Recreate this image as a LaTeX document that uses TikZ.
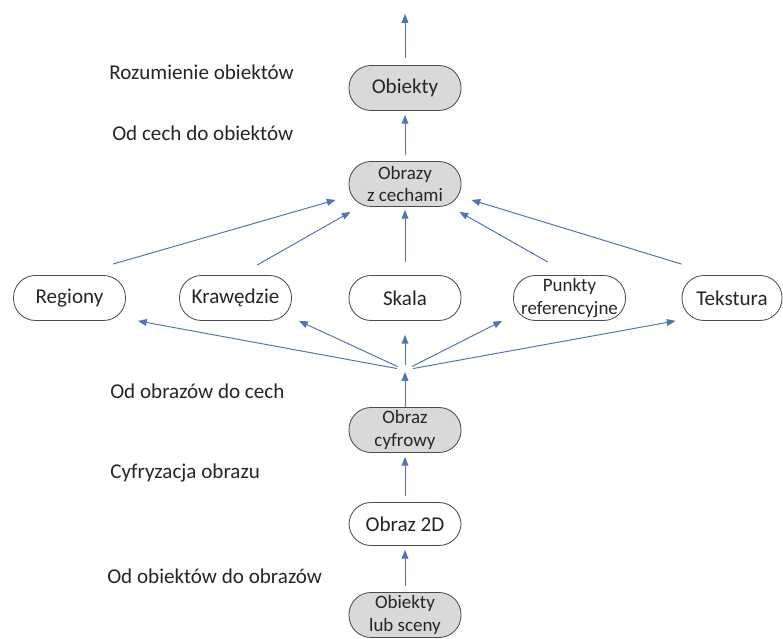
\documentclass[tikz,border=0pt]{standalone}
\usepackage{fontspec}
\setmainfont{Carlito}
\usetikzlibrary{arrows.meta}
\definecolor{arrowBlue}{RGB}{82,116,176}
\definecolor{boxGray}{RGB}{217,217,217}
\definecolor{textGray}{RGB}{38,38,38}

\begin{document}
\begin{tikzpicture}[
        stage/.style={draw=black!70, line width=0.6pt, rounded corners=0.55cm, align=center, font=\fontsize{13.5}{16}\selectfont, text=textGray, minimum width=2.8cm, minimum height=1.125cm, inner sep=1pt, fill=boxGray},
        feature/.style={stage, fill=white},
        big/.style={font=\fontsize{15}{17}\selectfont},
        levelLabel/.style={anchor=west, inner sep=0pt, font=\fontsize{15}{17}\selectfont, text=textGray},
        flow/.style={-{Triangle[length=2.2mm,width=1.7mm]}, draw=arrowBlue, line width=0.7pt},
        gap/.style={shorten <=0.15cm, shorten >=0.1cm}
      ]
      \useasboundingbox (0,0) rectangle (19.575,-15.975);
      \node[stage, big] (obiekty) at (10.125,-2.2) {Obiekty};
      \node[stage] (cechy) at (10.125,-4.6) {Obrazy\\z cechami};
      \node[feature, big] (regiony) at (1.7375,-7.45) {Regiony};
      \node[feature, big] (krawedzie) at (5.8875,-7.45) {Krawędzie};
      \node[feature, big] (skala) at (10.125,-7.45) {Skala};
      \node[feature] (punkty) at (14.2375,-7.45) {Punkty\\referencyjne};
      \node[feature, big, minimum width=2.5cm] (tekstura) at (18.3,-7.45) {Tekstura};
      \node[stage] (cyfrowy) at (10.125,-10.75) {Obraz\\cyfrowy};
      \node[feature, big, minimum height=1.075cm] (obraz2d) at (10.125,-13.1) {Obraz 2D};
      \node[stage] (sceny) at (10.125,-15.375) {Obiekty\\lub sceny};
      \coordinate (top) at (10.125,-0.35);
      \coordinate (hub) at (10.125,-9.25);
      \node[levelLabel] (lRozumienie) at (2.725,-1.8) {Rozumienie obiektów};
      \node[levelLabel] (lCechy) at (2.8,-3.325) {Od cech do obiektów};
      \node[levelLabel] (lObrazy) at (2.75,-9.775) {Od obrazów do cech};
      \node[levelLabel] (lCyfryzacja) at (2.75,-11.825) {Cyfryzacja obrazu};
      \node[levelLabel] (lObiekty) at (2.675,-14.4) {Od obiektów do obrazów};
      \draw[flow, shorten <=0.175cm] (obiekty) -- (top);
      \draw[flow, gap] (cechy) -- (obiekty);
      \draw[flow] ([shift={(-0.325,0.275)}]regiony.north east) -- ([shift={(-0.325,0.175)}]cechy.south west);
      \draw[flow] ([shift={(0.54,0.25)}]krawedzie.north) -- ([shift={(0.05,-0.125)}]cechy.south west);
      \draw[flow, shorten <=0.325cm, shorten >=0.075cm] (skala) -- (cechy);
      \draw[flow] ([shift={(-0.54,0.325)}]punkty.north) -- ([shift={(-0.05,-0.125)}]cechy.south east);
      \draw[flow] ([shift={(0,0.275)}]tekstura.north west) -- ([shift={(0.25,0.175)}]cechy.south east);
      \draw[flow, shorten >=0.05cm] (cyfrowy) -- (hub);
      \draw[flow, shorten <=0.2cm] (hub) -- ([shift={(0.3,0)}]regiony.south east);
      \draw[flow, shorten <=0.2cm] (hub) -- ([shift={(0.175,0)}]krawedzie.south east);
      \draw[flow, shorten <=0.125cm, shorten >=0.35cm] (hub) -- (skala);
      \draw[flow, shorten <=0.2cm] (hub) -- ([shift={(-0.275,0)}]punkty.south west);
      \draw[flow, shorten <=0.2cm] (hub) -- ([shift={(-0.15,0)}]tekstura.south west);
      \draw[flow, gap] (obraz2d) -- (cyfrowy);
      \draw[flow, gap] (sceny) -- (obraz2d);
    \end{tikzpicture}
\end{document}
